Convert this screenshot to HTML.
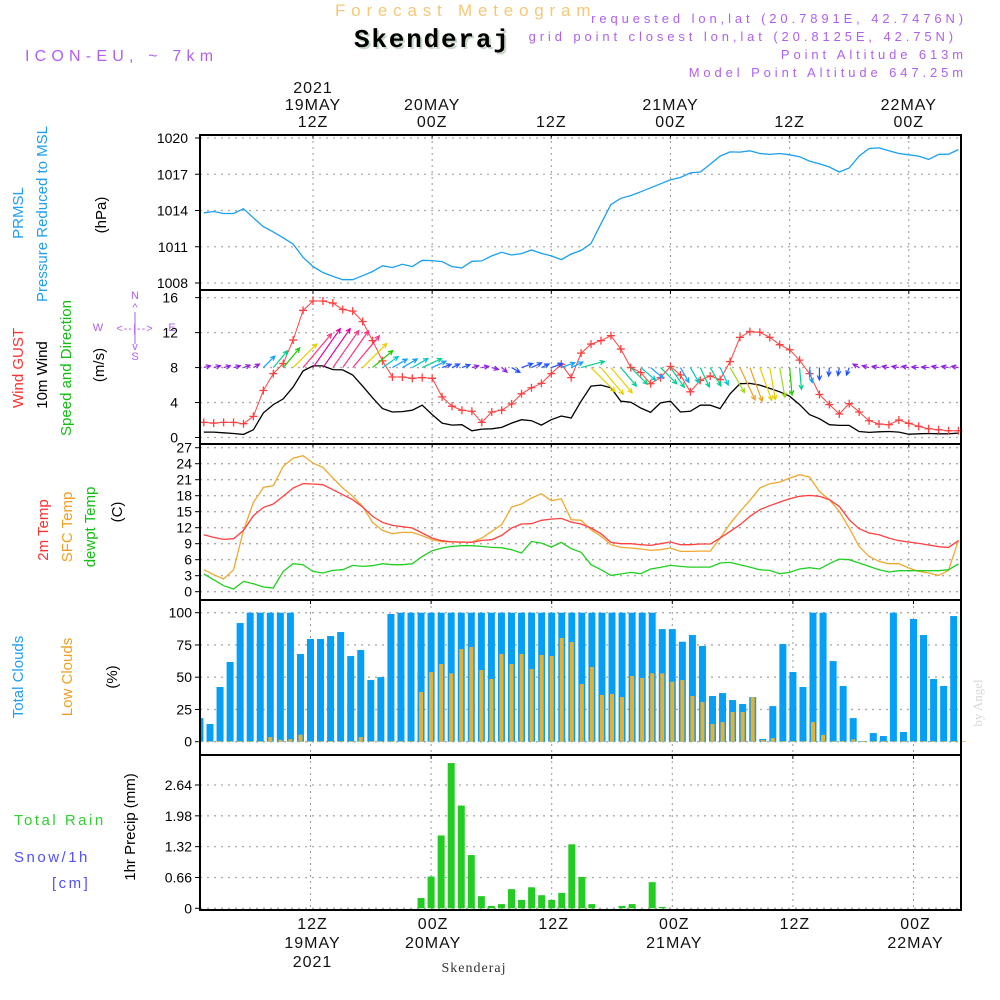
<!DOCTYPE html>
<html><head><meta charset="utf-8">
<style>
html,body{margin:0;padding:0;background:#fff;}
svg{display:block;font-family:"Liberation Sans",sans-serif;}
</style></head>
<body>
<svg id="chart" width="1000" height="1000" viewBox="0 0 1000 1000" xmlns="http://www.w3.org/2000/svg">
<rect width="1000" height="1000" fill="#fff"/>
<g>
<text x="335" y="16" font-size="17" fill="#f5c878" letter-spacing="5.8">Forecast Meteogram</text>
<text x="356" y="49" font-size="26" font-weight="bold" font-family="Liberation Mono, monospace" fill="#c8d8c8" letter-spacing="1.8">Skenderaj</text>
<text x="354" y="47" font-size="26" font-weight="bold" font-family="Liberation Mono, monospace" fill="#000" letter-spacing="1.8">Skenderaj</text>
<text x="25" y="61" font-size="16" fill="#b060f0" letter-spacing="5.2">ICON-EU, ~ 7km</text>
<g font-size="13" fill="#b060f0" text-anchor="end" letter-spacing="3.9">
<text x="967" y="23">requested lon,lat (20.7891E, 42.7476N)</text>
<text x="957" y="41">grid point closest lon,lat (20.8125E, 42.75N)</text>
<text x="967" y="59">Point Altitude 613m</text>
<text x="967" y="77">Model Point Altitude 647.25m</text>
</g>
</g>
<g id="plots"></g>
<g font-size="15">
<text transform="translate(23,213) rotate(-90)" text-anchor="middle" fill="#1e9ff0">PRMSL</text>
<text transform="translate(47,214) rotate(-90)" text-anchor="middle" fill="#1e9ff0">Pressure Reduced to MSL</text>
<text transform="translate(106,215) rotate(-90)" text-anchor="middle" fill="#000">(hPa)</text>
<text transform="translate(23,368) rotate(-90)" text-anchor="middle"><tspan fill="#ff3030">Wind GUST</tspan></text>
<text transform="translate(47,375) rotate(-90)" text-anchor="middle" fill="#000">10m Wind</text>
<text transform="translate(71,368) rotate(-90)" text-anchor="middle" fill="#10c010">Speed and Direction</text>
<text transform="translate(104,365) rotate(-90)" text-anchor="middle" fill="#000">(m/s)</text>
<g font-size="11" fill="#b060f0" text-anchor="middle">
<text x="135" y="299">N</text><text x="135" y="360">S</text><text x="98" y="331">W</text><text x="172" y="331">E</text>
<text x="135" y="311">^</text><text x="135" y="350">v</text>
<text x="135" y="332" letter-spacing="1">&lt;--|--&gt;</text>
<line x1="135" y1="312" x2="135" y2="344" stroke="#b060f0" stroke-width="1"/>
</g>
<text transform="translate(48,530) rotate(-90)" text-anchor="middle" fill="#ff3030">2m Temp</text>
<text transform="translate(72,527) rotate(-90)" text-anchor="middle" fill="#f0a020">SFC Temp</text>
<text transform="translate(95,527) rotate(-90)" text-anchor="middle" fill="#10c010">dewpt Temp</text>
<text transform="translate(122,512) rotate(-90)" text-anchor="middle" fill="#000">(C)</text>
<text transform="translate(23,677) rotate(-90)" text-anchor="middle" fill="#1e9ff0">Total Clouds</text>
<text transform="translate(72,677) rotate(-90)" text-anchor="middle" fill="#f0a020">Low Clouds</text>
<text transform="translate(117,677) rotate(-90)" text-anchor="middle" fill="#000">(%)</text>
<text x="14" y="825" fill="#30d030" letter-spacing="2.5">Total  Rain</text>
<text x="14" y="862" fill="#5050ff" letter-spacing="2.5">Snow/1h</text>
<text x="52" y="888" fill="#5050ff" letter-spacing="2.5">[cm]</text>
<text transform="translate(135,827) rotate(-90)" text-anchor="middle" fill="#000">1hr Precip (mm)</text>
<text transform="translate(982,703) rotate(-90)" text-anchor="middle" font-size="13" font-family="Liberation Serif, serif" fill="#d8d8d8">by Angel</text>
<text x="474" y="972" text-anchor="middle" font-size="14" font-family="Liberation Serif, serif" fill="#333" letter-spacing="1">Skenderaj</text>
</g>
</svg>
<script>
// ---- data (hourly, starting 01Z 19 May = t -11 h relative to 12Z 19 May) ----
const startHour = -11;
const pressure = [1013.81,1013.92,1013.75,1013.75,1014.14,1013.40,1012.66,1012.23,1011.74,1011.22,1010.13,1009.36,1008.87,1008.55,1008.27,1008.27,1008.60,1008.95,1009.42,1009.28,1009.55,1009.36,1009.88,1009.85,1009.77,1009.36,1009.25,1009.80,1009.83,1010.24,1010.54,1010.32,1010.43,1010.73,1010.45,1010.24,1009.94,1010.40,1010.70,1011.27,1012.91,1014.49,1015.01,1015.23,1015.55,1015.88,1016.21,1016.54,1016.73,1017.11,1017.19,1017.82,1018.50,1018.85,1018.83,1018.94,1018.72,1018.64,1018.72,1018.61,1018.45,1018.09,1017.87,1017.60,1017.19,1017.52,1018.50,1019.13,1019.18,1018.94,1018.72,1018.61,1018.50,1018.23,1018.64,1018.66,1019.04];
const windGust = [1.73,1.65,1.73,1.73,1.58,2.42,5.38,7.31,8.46,11.15,14.54,15.62,15.62,15.38,14.65,14.46,13.27,11.08,8.77,6.92,6.92,6.77,6.85,6.77,4.65,3.58,3.12,3.0,1.73,2.92,3.12,3.85,5.0,5.69,6.19,7.31,8.38,6.85,9.65,10.69,11.08,11.65,10.12,8.0,7.42,6.15,6.85,8.12,7.15,5.23,6.54,7.04,6.62,8.69,11.46,12.12,12.04,11.46,10.62,10.04,8.85,7.31,4.92,3.77,2.69,3.88,2.92,1.92,1.54,1.46,2.0,1.62,1.27,1.0,0.88,0.77,0.77];
const windSpeed = [0.62,0.62,0.54,0.46,0.35,0.88,2.81,3.77,4.42,5.77,7.62,8.19,8.19,7.77,7.73,7.15,5.88,4.54,3.31,2.92,2.96,3.12,3.69,2.62,1.65,1.42,1.46,0.77,0.96,1.0,1.15,1.65,2.04,1.92,1.42,2.04,2.46,2.23,4.15,5.88,6.0,5.69,4.15,4.04,3.38,2.88,3.96,4.15,2.92,3.0,3.69,3.69,3.31,5.0,6.15,6.19,6.0,5.62,5.23,4.73,3.77,2.62,2.15,1.46,1.38,1.38,0.69,0.58,0.65,0.69,0.62,0.38,0.42,0.46,0.42,0.42,0.5];
const windDir = [15,15,15,15,20,30,45,50,50,45,50,55,55,55,55,50,45,40,35,30,30,30,25,25,20,25,20,15,10,-15,-40,-30,20,25,25,20,20,25,15,-45,-50,-50,-50,-45,-40,-40,-45,-55,-60,-60,-65,-60,-65,-60,-65,-70,-70,-80,-80,-85,-85,-80,-90,-95,-100,-110,150,165,170,170,170,170,175,175,170,170,170];
const temp2m = [10.69,10.19,9.81,9.94,11.5,14.25,15.81,16.44,17.88,19.44,20.25,20.19,20.06,19.12,18.19,17.25,15.88,14.12,13.0,12.44,12.19,11.94,11.0,10.06,9.56,9.31,9.31,9.25,9.62,9.75,10.56,11.94,12.69,12.75,13.38,13.62,13.75,13.06,12.69,11.94,10.88,9.25,9.0,9.0,8.81,8.69,9.0,9.31,8.81,8.81,8.94,8.94,10.06,11.31,12.56,14.12,15.38,16.12,16.81,17.44,17.88,18.06,17.88,17.25,16.0,13.5,11.81,11.0,10.69,10.06,9.56,9.31,9.06,8.75,8.44,8.31,9.56];
const tempSfc = [4.12,3.19,2.38,4.12,11.5,16.75,19.56,19.88,23.5,25.06,25.5,24.12,23.31,21.31,19.44,17.88,16.0,13.0,11.5,10.88,11.12,11.12,10.5,9.75,9.38,9.38,9.25,9.31,10.06,11.31,12.56,15.88,16.44,17.56,18.38,17.06,17.44,13.5,13.38,11.62,10.38,8.81,8.31,8.19,8.0,7.75,7.88,8.19,7.56,7.56,7.62,7.62,10.06,12.75,15.06,17.12,19.44,20.25,20.56,21.31,21.94,21.5,18.81,17.25,15.06,11.94,8.5,6.62,5.69,5.25,5.25,4.44,3.81,3.5,3.06,4.0,9.62];
const dewpt = [3.31,2.25,1.12,0.5,1.94,1.5,0.88,0.69,3.81,5.25,5.06,3.81,3.5,4.0,4.12,4.94,4.75,4.88,5.25,5.06,5.06,5.25,6.62,7.69,8.19,8.5,8.62,8.62,8.5,8.31,8.25,7.88,7.25,9.44,9.12,8.38,9.25,8.06,7.38,5.06,4.12,3.06,3.31,3.62,3.38,4.25,4.56,4.94,4.75,4.62,4.62,4.62,5.38,5.5,5.06,4.62,4.12,4.0,3.38,3.62,4.25,4.5,4.25,5.25,6.12,6.0,5.38,4.75,4.12,3.69,3.94,3.94,3.94,3.94,3.94,4.12,5.19];
const totalClouds = [18.3,13.7,42.4,61.8,92.0,100,100,100,100,100,68.0,79.6,79.6,81.9,85.0,66.4,71.1,47.8,50.1,99.0,100,100,100,100,100,100,100,100,100,100,100,100,100,100,100,100,100,100,100,100,100,100,100,100,100,100,87.3,87.3,77.5,82.7,74.2,35.4,37.7,32.3,29.2,34.6,2.1,27.6,75.7,54.0,42.4,100,100,62.5,43.2,18.3,0.5,6.7,4.4,100,7.5,95.1,82.7,48.6,43.2,97.4,100];
const lowClouds = [0.5,0.5,0.5,0.5,0.5,0.5,0.5,3.6,1.5,2,5.4,0.5,0.5,0.5,0.5,0.5,3.6,0.5,0.5,0.5,0.5,0.5,38.5,54,60.2,53,71.8,73.4,55.6,48.6,68,60.2,68,56.3,67.2,66.4,80.4,77.3,44.7,57.9,36.2,37,34.6,50.9,49.4,53,53,46.5,47.8,35.4,30.7,13.7,15.2,23,23,34.6,1.3,2.8,0.5,0.5,0.5,15.2,5.2,0.5,0.5,1.8,0.5,0.5,0.5,0.5,0.5,0.5,0.5,0.5,0.5,0.5,0.5];
const precip = [0,0,0,0,0,0,0,0,0,0,0,0,0,0,0,0,0,0,0,0,0,0,0.22,0.68,1.56,3.11,2.2,1.14,0.26,0.05,0.09,0.41,0.18,0.45,0.28,0.18,0.33,1.37,0.67,0.09,0,0,0.05,0.09,0,0.56,0.03,0,0,0,0,0,0,0,0,0,0,0,0,0,0,0,0,0,0,0,0,0,0,0,0,0,0,0,0,0,0];
const pressureTicks = [1008,1011,1014,1017,1020];
const windTicks = [0,4,8,12,16];
const tempTicks = [0,3,6,9,12,15,18,21,24,27];
const cloudTicks = [0,25,50,75,100];
const precipTicks = [0,0.66,1.32,1.98,2.64];
const topTimeLabels = [["2021","19MAY","12Z"],["","20MAY","00Z"],["","","12Z"],["","21MAY","00Z"],["","","12Z"],["","22MAY","00Z"]];
const bottomTimeLabels = [["12Z","19MAY","2021"],["00Z","20MAY",""],["12Z","",""],["00Z","21MAY",""],["12Z","",""],["00Z","22MAY",""]];
const labelHours = [0,12,24,36,48,60];

// ---- scales ----
const L = 200, R = 961;
const xt = t => 313 + t * 9.93;
const xb = t => 310.5 + t * 10.05;
const yP = v => 283 - (v - 1008) * 145 / 12;
const yW = v => 437.5 - v * 8.74;
const yT = v => 591.7 - v * 5.333;
const yC = v => 741.7 - v * 1.29;
const yR = v => 908.3 - v * 46.7;

const NS = 'http://www.w3.org/2000/svg';
const root = document.getElementById('plots');
function mk(tag, attrs, parent) {
  const e = document.createElementNS(NS, tag);
  for (const k in attrs) e.setAttribute(k, attrs[k]);
  (parent || root).appendChild(e);
  return e;
}
const panels = [
  {name:'pressure', top:135, bot:290, ticks:pressureTicks, y:yP, x:xt, tx:188, fmt:v=>v},
  {name:'wind', top:290, bot:444, ticks:windTicks, y:yW, x:xt, tx:178, fmt:v=>v},
  {name:'temperature', top:444, bot:600, ticks:tempTicks, y:yT, x:xt, tx:192, fmt:v=>v},
  {name:'clouds', top:600, bot:755, ticks:cloudTicks, y:yC, x:xb, tx:192, fmt:v=>v},
  {name:'precip', top:755, bot:910, ticks:precipTicks, y:yR, x:xb, tx:192, fmt:v=>v===0?'0':v.toFixed(2)}
];
panels.forEach(p => {
  const g = mk('g', {});
  
  
  p.g = g;
  labelHours.forEach(h => {
    const ln = mk('line', {x1:p.x(h), x2:p.x(h), y1:p.top, y2:p.bot, stroke:'#999', 'stroke-width':1, 'stroke-dasharray':'2,4'}, g);
    
    
    mk('line', {x1:p.x(h), x2:p.x(h), y1:p.top, y2:p.top+4, stroke:'#000'}, g);
  });
  p.ticks.forEach(v => {
    const yy = p.y(v);
    const ln = mk('line', {x1:L, x2:R, y1:yy, y2:yy, stroke:'#aaa', 'stroke-width':1.3, 'stroke-dasharray':'2,5'}, g);
    
    
    mk('line', {x1:L-5, x2:L, y1:yy, y2:yy, stroke:'#000'}, g);
    const t = mk('text', {x:p.tx, y:yy+5, 'text-anchor':'end', 'font-size':14, fill:'#000'}, g);
    
    
    t.textContent = p.fmt(v);
  });
});
function line(arr, xf, yf, color, name, parent) {
  const pts = arr.map((v,i) => xf(startHour+i).toFixed(1) + ',' + yf(v).toFixed(1)).join(' ');
  const e = mk('polyline', {points:pts, fill:'none', stroke:color, 'stroke-width':1.3}, parent);
  
  
  return e;
}
const defs = mk('defs', {});
const cp = mk('clipPath', {id:'clip'}, defs);
mk('rect', {x:L, y:130, width:R-L, height:785}, cp);

line(pressure, xt, yP, '#1aa0f0', 'pressure-line', panels[0].g).setAttribute('clip-path','url(#clip)');
const wg = panels[1].g;
line(windSpeed, xt, yW, '#000', 'wind-speed-line', wg);
const gl = line(windGust, xt, yW, '#ff4040', 'wind-gust-line', wg);
gl.setAttribute('stroke-width', 1);
windGust.forEach((v,i) => {
  const x = xt(startHour+i), y = yW(v);
  const m = mk('path', {d:`M${x-4},${y}h8M${x},${y-4}v8`, stroke:'#ff4040', 'stroke-width':1.3}, wg);
  
  
});
function windColor(s) {
  if (s < 1.2) return '#9020e0';
  if (s < 2.2) return '#2050ff';
  if (s < 3.0) return '#10a0ff';
  if (s < 3.6) return '#00c8c8';
  if (s < 4.3) return '#00d090';
  if (s < 5.0) return '#20cc00';
  if (s < 5.4) return '#a0d820';
  if (s < 6.1) return '#e8d000';
  if (s < 7.0) return '#f0a020';
  if (s < 7.8) return '#ff3080';
  return '#e000a0';
}
windSpeed.forEach((s,i) => {
  const x0 = xt(startHour+i), y0 = yW(8);
  const len = Math.max(7, s * 5.8);
  const a = windDir[i] * Math.PI / 180;
  const x1 = x0 + len*Math.cos(a), y1 = y0 - len*Math.sin(a);
  const h1 = a + Math.PI - 0.45, h2 = a + Math.PI + 0.45;
  const c = windColor(s);
  const ar = mk('path', {d:`M${x0},${y0}L${x1},${y1}M${x1+5*Math.cos(h1)},${y1-5*Math.sin(h1)}L${x1},${y1}L${x1+5*Math.cos(h2)},${y1-5*Math.sin(h2)}`, stroke:c, 'stroke-width':1.2, fill:'none'}, wg);
  
  
});
const tg = panels[2].g;
line(tempSfc, xt, yT, '#f0a830', 'sfc-temp-line', tg);
line(temp2m, xt, yT, '#ff4040', '2m-temp-line', tg);
line(dewpt, xt, yT, '#20d020', 'dewpoint-line', tg);
const cg = panels[3].g;
totalClouds.forEach((v,i) => {
  const x = xb(startHour+i);
  const b = mk('rect', {x:Math.max(L, x-3.5), y:yC(v), width:Math.min(x+3.5, R)-Math.max(L, x-3.5), height:yC(0)-yC(v), fill:'#05a0f5'}, cg);
  
  
});
lowClouds.forEach((v,i) => {
  const x = xb(startHour+i);
  const b = mk('rect', {x:x-2, y:yC(v), width:4, height:yC(0)-yC(v), fill:'#e8b030'}, cg);
  
  
});
const pg = panels[4].g;
precip.forEach((v,i) => {
  if (v <= 0) return;
  const x = xb(startHour+i);
  const b = mk('rect', {x:x-3.5, y:yR(v), width:7, height:yR(0)-yR(v), fill:'#22cc22'}, pg);
  
  
});
panels.forEach(p => {
  const f = mk('rect', {x:L, y:p.top, width:R-L, height:p.bot-p.top, fill:'none', stroke:'#000', 'stroke-width':2});
  
  
});
labelHours.forEach((h,i) => {
  topTimeLabels[i].forEach((s,j) => {
    if (!s) return;
    const t = mk('text', {x:xt(h), y:93+j*17, 'text-anchor':'middle', 'font-size':16, fill:'#111', 'letter-spacing':1});
    
    
    t.textContent = s;
  });
  bottomTimeLabels[i].forEach((s,j) => {
    if (!s) return;
    const t = mk('text', {x:xb(h)+2, y:929+j*19, 'text-anchor':'middle', 'font-size':16, fill:'#111', 'letter-spacing':1});
    
    
    t.textContent = s;
  });
});
</script>
</body></html>
